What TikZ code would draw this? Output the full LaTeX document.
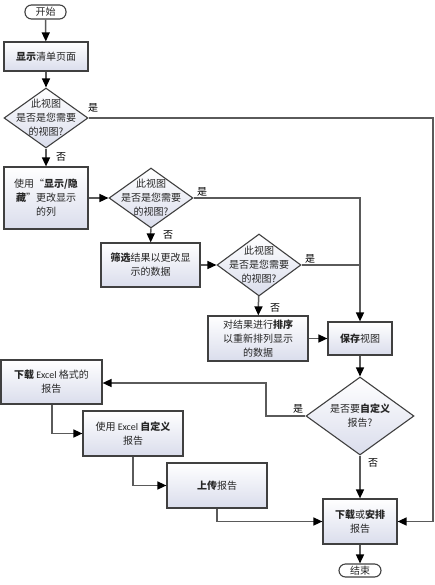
\documentclass[tikz,border=0pt]{standalone}
\usepackage{fontspec}
\setmainfont{Noto Sans CJK SC}
\newfontfamily\latinfont{Carlito}
\usetikzlibrary{shapes.geometric,arrows.meta}
\definecolor{boxfill}{HTML}{DADDEC}
\definecolor{edgecol}{HTML}{404040}
\definecolor{linecol}{HTML}{5A5A5A}
\definecolor{txtcol}{HTML}{262626}
\newcommand{\xl}{{\latinfont Excel}}
\tikzset{
  base/.style={font=\fontsize{10bp}{14bp}\selectfont, text=txtcol, align=center, inner sep=0pt},
  procbox/.style={base, draw=edgecol, line width=1.2bp, top color=white, bottom color=boxfill, minimum width=#1},
  dia/.style={draw=edgecol, line width=1.1bp, diamond, inner sep=0pt, top color=white, bottom color=boxfill},
  term/.style={base, draw=edgecol, line width=1.1bp, fill=white, rounded corners=6.5bp},
  conn/.style={draw=linecol, line width=1.5bp},
  arr/.style={conn, -{Triangle[length=9bp,width=8bp,fill=black,color=black]}},
  yn/.style={font=\fontsize{10bp}{12bp}\selectfont, text=black, inner sep=0pt},
}
\begin{document}
\begin{tikzpicture}[x=1bp,y=-1bp]
\useasboundingbox (0,0) rectangle (435,585);
% terminators
\node[term, minimum width=41bp, minimum height=14bp] (start) at (45.5,12) {开始};
\node[term, minimum width=42bp, minimum height=13bp] (end) at (360,570.5) {结束};
% process boxes
\node[procbox=84bp, minimum height=29bp] (b1) at (46,56.5) {\textbf{显示}清单页面};
\node[procbox=84bp, minimum height=62bp] (b2) at (46,198) {使用“\textbf{显示/隐}\\\textbf{藏}”更改显示\\的列};
\node[procbox=99bp, minimum height=44bp] (b3) at (150.5,265) {\textbf{筛选}结果以更改显\\示的数据};
\node[procbox=100bp, minimum height=45bp] (b4) at (258,338.5) {对结果进行\textbf{排序}\\以重新排列显示\\的数据};
\node[procbox=64bp, minimum height=33bp] (b5) at (360,338.5) {\textbf{保存}视图};
\node[procbox=101bp, minimum height=44bp] (b6) at (51.5,382) {\textbf{下载} \xl{} 格式的\\报告};
\node[procbox=100bp, minimum height=45bp] (b7) at (133,433.5) {使用 \xl{} \textbf{自定义}\\报告};
\node[procbox=100bp, minimum height=45bp] (b8) at (217,485.5) {\textbf{上传}报告};
\node[procbox=74bp, minimum height=45bp] (b9) at (360,521.5) {\textbf{下载}或\textbf{安排}\\报告};
% decisions
\node[dia, minimum width=84bp, minimum height=60bp] (d1) at (46,118) {};
\node[base] at (d1) {此视图\\是否是您需要\\的视图?};
\node[dia, minimum width=84bp, minimum height=60bp] (d2) at (151,198) {};
\node[base] at (d2) {此视图\\是否是您需要\\的视图?};
\node[dia, minimum width=84bp, minimum height=62bp] (d3) at (259,265) {};
\node[base] at (d3) {此视图\\是否是您需要\\的视图?};
\node[dia, minimum width=108bp, minimum height=78bp] (d4) at (360,416) {};
\node[base] at (d4) {是否要\textbf{自定义}\\报告?};
% helper coordinates
\coordinate (r1) at (433,118);
\coordinate (r2) at (433,521.5);
\coordinate (c2) at (360,198);
\coordinate (c3) at (360,265);
\coordinate (l1) at (266,416);
\coordinate (l2) at (266,383);
\coordinate (k1) at (52,433.5);
\coordinate (k2) at (133,485.5);
\coordinate (k3) at (217,521.5);
% connectors
\draw[arr] (start) -- (b1);
\draw[arr] (b1) -- (d1);
\draw[arr] (d1) -- (b2);
\draw[arr] (d1.east) -- (r1) -- (r2) -- (b9.east);
\draw[arr] (b2) -- (d2);
\draw[arr] (d2.east) -- (c2) -- (b5.north);
\draw[arr] (d2) -- (b3);
\draw[arr] (b3) -- (d3);
\draw[conn] (d3.east) -- (c3);
\draw[arr] (d3) -- (b4);
\draw[arr] (b4) -- (b5);
\draw[arr] (b5) -- (d4);
\draw[arr] (d4.west) -- (l1) -- (l2) -- (b6.east |- l2);
\draw[arr] (d4) -- (b9);
\draw[arr] (b6.south -| k1) -- (k1) -- (b7.west);
\draw[arr] (b7.south) -- (k2) -- (b8.west);
\draw[arr] (b8.south) -- (k3) -- (b9.west);
\draw[arr] (b9) -- (end);
% yes/no labels
\node[yn] (y1) at (93,108) {是};
\node[yn] (n1) at (61,157) {否};
\node[yn] (y2) at (202,192) {是};
\node[yn] (n2) at (168,235) {否};
\node[yn] (y3) at (310,259) {是};
\node[yn] (n3) at (275,308) {否};
\node[yn] (y4) at (298,409) {是};
\node[yn] (n4) at (373,463) {否};
\end{tikzpicture}
\end{document}
